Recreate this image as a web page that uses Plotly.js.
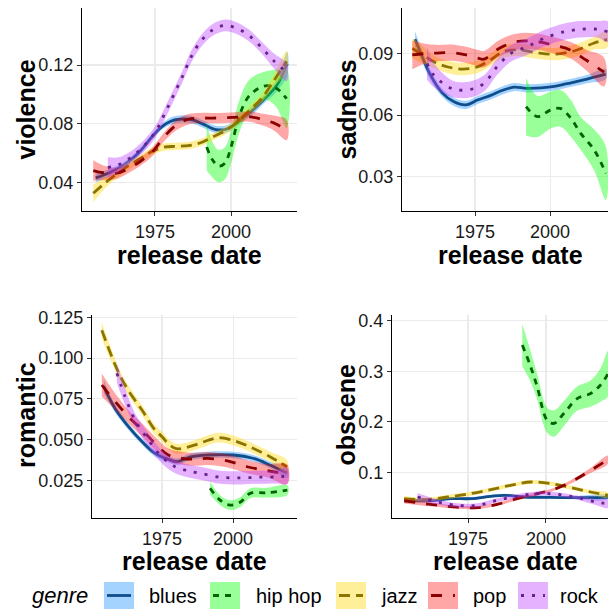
<!DOCTYPE html>
<html>
<head>
<meta charset="utf-8">
<script src="https://cdn.plot.ly/plotly-3.0.1.min.js"></script>
<style>html,body{margin:0;padding:0;background:#fff;} #chart{width:608px;height:612px;}</style>
</head>
<body>
<div id="chart"></div>
<script>
// ---------- data ----------
const genres = ["blues", "hip hop", "jazz", "pop", "rock"];
const metrics = ["violence", "sadness", "romantic", "obscene"];
const xTitle = "release date";

// violence
const violence_blues_x = [1955.5,1960,1965,1970,1974,1977,1980,1983,1987,1991,1995,1998,2001,2004,2007,2011,2015,2018.5];
const violence_blues_y = [0.043,0.0465,0.052,0.061,0.071,0.0775,0.0815,0.083,0.0828,0.0795,0.076,0.076,0.079,0.084,0.089,0.097,0.106,0.121];
const violence_blues_se = [0.003,0.0025,0.002,0.002,0.002,0.002,0.0025,0.0025,0.0025,0.0025,0.0025,0.0025,0.0025,0.0025,0.003,0.003,0.004,0.008];
const violence_hiphop_x = [1992,1994,1996,1998,2000,2002,2004,2006,2009,2012,2015,2018.3];
const violence_hiphop_y = [0.064,0.055,0.051,0.053,0.064,0.080,0.092,0.099,0.104,0.106,0.104,0.097];
const violence_hiphop_se = [0.016,0.012,0.011,0.011,0.011,0.011,0.011,0.011,0.010,0.010,0.013,0.02];
const violence_jazz_x = [1954.7,1958,1962,1966,1970,1974,1978,1982,1986,1990,1994,1998,2002,2006,2010,2014,2018.3];
const violence_jazz_y = [0.0325,0.0385,0.045,0.051,0.056,0.061,0.064,0.0645,0.065,0.067,0.071,0.075,0.081,0.089,0.097,0.109,0.1225];
const violence_jazz_se = [0.006,0.004,0.003,0.003,0.0025,0.0025,0.0025,0.0025,0.0025,0.0025,0.0025,0.0025,0.0025,0.003,0.003,0.004,0.007];
const violence_pop_x = [1954.7,1958,1962,1966,1970,1974,1978,1982,1986,1990,1994,1998,2002,2006,2010,2014,2018.3];
const violence_pop_y = [0.048,0.0465,0.046,0.049,0.054,0.0605,0.071,0.079,0.083,0.0838,0.0838,0.084,0.0845,0.0848,0.083,0.0805,0.0757];
const violence_pop_se = [0.007,0.005,0.004,0.003,0.003,0.003,0.003,0.0035,0.0035,0.0035,0.0035,0.0035,0.0035,0.0035,0.004,0.005,0.007];
const violence_rock_x = [1959.5,1963,1967,1971,1975,1978,1981,1984,1987,1990,1994,1998,2002,2006,2010,2014,2018.3];
const violence_rock_y = [0.050,0.052,0.057,0.064,0.074,0.086,0.099,0.112,0.126,0.136,0.144,0.147,0.145,0.140,0.132,0.123,0.115];
const violence_rock_se = [0.007,0.005,0.004,0.004,0.004,0.004,0.004,0.004,0.004,0.004,0.004,0.004,0.004,0.004,0.004,0.005,0.006];

// sadness
const sadness_blues_x = [1955,1957,1960,1964,1968,1972,1976,1980,1984,1988,1992,1997,2002,2007,2012,2018.5];
const sadness_blues_y = [0.097,0.090,0.080,0.071,0.0665,0.065,0.0675,0.0695,0.072,0.0737,0.0731,0.0733,0.0742,0.0758,0.0775,0.080];
const sadness_blues_se = [0.004,0.003,0.0025,0.002,0.002,0.002,0.002,0.002,0.002,0.002,0.002,0.002,0.002,0.002,0.002,0.0025];
const sadness_hiphop_x = [1992,1995.8,2000.2,2003.6,2006.9,2010.2,2014.7,2018.6];
const sadness_hiphop_y = [0.0641,0.0593,0.0625,0.0632,0.0585,0.0511,0.043,0.0316];
const sadness_hiphop_se = [0.014,0.010,0.009,0.009,0.009,0.008,0.010,0.013];
const sadness_jazz_x = [1954.1,1958,1962,1966,1971,1976,1980,1984.5,1990,1995.5,2002,2009,2014.5,2019];
const sadness_jazz_y = [0.0926,0.089,0.0855,0.0835,0.0825,0.0837,0.0869,0.091,0.0918,0.0905,0.0898,0.0918,0.0951,0.097];
const sadness_jazz_se = [0.005,0.004,0.003,0.003,0.003,0.003,0.003,0.003,0.003,0.003,0.003,0.003,0.003,0.004];
const sadness_pop_x = [1954.1,1958,1962,1967,1972,1976,1978,1983,1989,1995.5,2001,2006.7,2012,2018];
const sadness_pop_y = [0.0894,0.090,0.0903,0.0905,0.0894,0.0878,0.0873,0.0925,0.0959,0.0959,0.0942,0.0918,0.0869,0.081];
const sadness_pop_se = [0.007,0.005,0.004,0.004,0.004,0.004,0.004,0.004,0.004,0.004,0.004,0.004,0.005,0.007];
const sadness_rock_x = [1959,1961,1963.6,1968,1973.6,1978,1982.4,1987,1992.4,1998,2004.7,2010.2,2015.8,2019.3];
const sadness_rock_y = [0.0853,0.080,0.0763,0.0726,0.0726,0.0755,0.0837,0.0902,0.0934,0.0975,0.1007,0.1019,0.1019,0.1007];
const sadness_rock_se = [0.008,0.006,0.005,0.004,0.004,0.004,0.004,0.004,0.004,0.004,0.004,0.004,0.004,0.005];

// romantic
const romantic_blues_x = [1954.5,1956,1958.5,1963.2,1968,1972.5,1977.2,1980.3,1985,1991,2000,2007,2013,2019];
const romantic_blues_y = [0.0825,0.077,0.069,0.058,0.0487,0.0416,0.038,0.0365,0.0395,0.0406,0.0406,0.0386,0.0345,0.0297];
const romantic_blues_se = [0.004,0.003,0.0025,0.002,0.002,0.002,0.002,0.002,0.002,0.002,0.002,0.002,0.002,0.003];
const romantic_hiphop_x = [1991.9,1995.4,1998.9,2002.5,2006,2011.9,2019.1];
const romantic_hiphop_y = [0.0202,0.013,0.0099,0.0117,0.0171,0.0175,0.0191];
const romantic_hiphop_se = [0.004,0.003,0.003,0.003,0.003,0.003,0.003];
const romantic_jazz_x = [1953.8,1957.3,1960,1963.2,1968,1972.5,1975,1977.5,1980,1983,1987,1991,1995,2001,2007,2013,2019];
const romantic_jazz_y = [0.117,0.101,0.090,0.080,0.068,0.056,0.0518,0.047,0.0445,0.045,0.047,0.0495,0.0512,0.049,0.0447,0.0396,0.0334];
const romantic_jazz_se = [0.005,0.004,0.003,0.003,0.003,0.003,0.003,0.003,0.003,0.003,0.003,0.003,0.003,0.003,0.003,0.003,0.004];
const romantic_pop_x = [1953.8,1958.5,1963.2,1968,1972.5,1977.2,1982,1986,1991,1998,2005,2012,2019];
const romantic_pop_y = [0.0835,0.0733,0.0641,0.0559,0.0478,0.0406,0.0386,0.038,0.0385,0.037,0.0334,0.031,0.0288];
const romantic_pop_se = [0.007,0.005,0.004,0.004,0.004,0.004,0.004,0.004,0.004,0.004,0.004,0.004,0.006];
const romantic_rock_x = [1959.1,1962,1965.5,1970.2,1974.9,1979.6,1984,1988.4,1995.4,2002.5,2009.5,2015.4,2019.1];
const romantic_rock_y = [0.0907,0.0763,0.062,0.0498,0.0395,0.0334,0.031,0.0294,0.027,0.0266,0.027,0.0272,0.0278];
const romantic_rock_se = [0.006,0.005,0.004,0.004,0.004,0.004,0.004,0.004,0.004,0.004,0.004,0.004,0.005];

// obscene
const obscene_blues_x = [1954.5,1963,1969.5,1975.9,1982.3,1986.6,1993,1999.4,2008,2019.9];
const obscene_blues_y = [0.045,0.0443,0.0483,0.0483,0.0529,0.0549,0.0515,0.0509,0.0503,0.0509];
const obscene_blues_se = [0.004,0.003,0.003,0.003,0.003,0.003,0.003,0.003,0.003,0.004];
const obscene_hiphop_x = [1992.4,1995.1,1997.2,2000.4,2002.6,2005.8,2010,2014.3,2017.5,2019.9];
const obscene_hiphop_y = [0.352,0.309,0.269,0.203,0.197,0.217,0.246,0.256,0.273,0.295];
const obscene_hiphop_se = [0.042,0.03,0.025,0.025,0.026,0.025,0.024,0.026,0.033,0.045];
const obscene_jazz_x = [1954.5,1960.9,1968.4,1975.9,1982.3,1988.7,1995.1,2001.5,2007.9,2014.3,2019.9];
const obscene_jazz_y = [0.0483,0.0463,0.0515,0.0582,0.066,0.0747,0.0812,0.078,0.0701,0.0614,0.0549];
const obscene_jazz_se = [0.005,0.004,0.004,0.004,0.004,0.004,0.004,0.004,0.004,0.004,0.005];
const obscene_pop_x = [1954.5,1963,1970.5,1977.9,1984.3,1990.7,1997.2,2001.5,2005.8,2010,2014.3,2019.9];
const obscene_pop_y = [0.0437,0.037,0.0318,0.0305,0.037,0.0483,0.0582,0.0642,0.0747,0.088,0.104,0.1254];
const obscene_pop_se = [0.005,0.004,0.003,0.003,0.003,0.003,0.003,0.003,0.003,0.004,0.005,0.008];
const obscene_rock_x = [1958.8,1965.2,1971.6,1977.9,1984.3,1990.7,1997.2,2003.5,2010,2016,2019.9];
const obscene_rock_y = [0.0515,0.0417,0.035,0.035,0.045,0.0529,0.0582,0.0569,0.0503,0.0417,0.0378];
const obscene_rock_se = [0.008,0.005,0.004,0.004,0.004,0.004,0.004,0.004,0.004,0.006,0.008];

// tick labels
const xTicks = [1975, 2000];
const violenceTicks = [0.04, 0.08, 0.12];
const sadnessTicks = [0.03, 0.06, 0.09];
const romanticTicks = [0.025, 0.050, 0.075, 0.100, 0.125];
const obsceneTicks = [0.1, 0.2, 0.3, 0.4];

// ---------- styling ----------
const lineColors = ["#104E8B", "#006400", "#8B7500", "#8B0000", "#68228B"];
const fillColors = ["rgba(30,144,255,0.4)", "rgba(0,255,0,0.4)", "rgba(255,215,0,0.4)", "rgba(255,0,0,0.35)", "rgba(191,62,255,0.4)"];
const dashes = ["solid", "6px,6px", "11px,6px", "11px,11px", "3px,8px"];
const LW = 2.8;
const FONT = "Liberation Sans, Arial, sans-serif";

const series = {
  violence: [[violence_blues_x, violence_blues_y, violence_blues_se],[violence_hiphop_x, violence_hiphop_y, violence_hiphop_se],[violence_jazz_x, violence_jazz_y, violence_jazz_se],[violence_pop_x, violence_pop_y, violence_pop_se],[violence_rock_x, violence_rock_y, violence_rock_se]],
  sadness: [[sadness_blues_x, sadness_blues_y, sadness_blues_se],[sadness_hiphop_x, sadness_hiphop_y, sadness_hiphop_se],[sadness_jazz_x, sadness_jazz_y, sadness_jazz_se],[sadness_pop_x, sadness_pop_y, sadness_pop_se],[sadness_rock_x, sadness_rock_y, sadness_rock_se]],
  romantic: [[romantic_blues_x, romantic_blues_y, romantic_blues_se],[romantic_hiphop_x, romantic_hiphop_y, romantic_hiphop_se],[romantic_jazz_x, romantic_jazz_y, romantic_jazz_se],[romantic_pop_x, romantic_pop_y, romantic_pop_se],[romantic_rock_x, romantic_rock_y, romantic_rock_se]],
  obscene: [[obscene_blues_x, obscene_blues_y, obscene_blues_se],[obscene_hiphop_x, obscene_hiphop_y, obscene_hiphop_se],[obscene_jazz_x, obscene_jazz_y, obscene_jazz_se],[obscene_pop_x, obscene_pop_y, obscene_pop_se],[obscene_rock_x, obscene_rock_y, obscene_rock_se]]
};

// panel geometry in pixels [left, right, top, bottom], axis ranges, title positions
const W = 608, H = 612;
const panels = [
  {px: [82, 297, 8, 211], xr: [1951.0, 2021.7], yr: [0.0204, 0.1589], yt: violenceTicks, fmt: ".2f", xt: [189.5, 254.5], ytl: [25, 109.5]},
  {px: [402, 608, 8, 211], xr: [1950.67, 2019.3], yr: [0.0132, 0.1123], yt: sadnessTicks, fmt: ".2f", xt: [510, 254.5], ytl: [346, 109.5]},
  {px: [92, 297, 315, 518], xr: [1950.35, 2022.5], yr: [0.002, 0.1264], yt: romanticTicks, fmt: ".3f", xt: [194.5, 560.5], ytl: [26, 415]},
  {px: [392, 608, 315, 518], xr: [1950.6, 2019.9], yr: [0.010, 0.4113], yt: obsceneTicks, fmt: ".1f", xt: [505, 560.5], ytl: [345.5, 415]}
];

const traces = [];
const layout = {
  width: W, height: H,
  margin: {l: 0, r: 0, t: 0, b: 0},
  paper_bgcolor: "#fff", plot_bgcolor: "#fff",
  showlegend: false,
  font: {family: FONT, color: "#1a1a1a"},
  shapes: [], annotations: []
};
const titleFont = {family: FONT, size: 25, color: "#000", weight: "bold"};

metrics.forEach((m, pi) => {
  const suf = pi === 0 ? "" : String(pi + 1);
  const xa = "x" + suf, ya = "y" + suf;
  series[m].forEach((s, gi) => {
    const [xs, ys, se] = s;
    const up = ys.map((v, i) => v + se[i]);
    const lo = ys.map((v, i) => v - se[i]);
    traces.push({
      type: "scatter", mode: "lines", xaxis: xa, yaxis: ya,
      x: xs.concat(xs.slice().reverse()),
      y: up.concat(lo.slice().reverse()),
      fill: "toself", fillcolor: fillColors[gi],
      line: {width: 0, shape: "spline", smoothing: 1},
      hoverinfo: "skip", showlegend: false
    });
    traces.push({
      type: "scatter", mode: "lines", xaxis: xa, yaxis: ya,
      x: xs, y: ys, name: genres[gi],
      line: {color: lineColors[gi], width: LW, dash: dashes[gi], shape: "spline", smoothing: 1},
      showlegend: false
    });
  });
  const p = panels[pi];
  const common = {
    showline: true, linecolor: "#000", linewidth: 1.2,
    ticks: "outside", ticklen: 4, tickwidth: 1, tickcolor: "#333",
    showgrid: true, gridcolor: "#EBEBEB", gridwidth: 1.1,
    zeroline: false, automargin: false,
    tickfont: {family: FONT, size: 18, color: "#1a1a1a"}
  };
  layout["xaxis" + suf] = Object.assign({}, common, {
    domain: [p.px[0] / W, p.px[1] / W], anchor: ya,
    range: p.xr, tickvals: xTicks, ticktext: xTicks.map(String)
  });
  layout["yaxis" + suf] = Object.assign({}, common, {
    domain: [1 - p.px[3] / H, 1 - p.px[2] / H], anchor: xa,
    range: p.yr, tickvals: p.yt, tickformat: p.fmt
  });
  // axis titles (placed like ggplot: centred on the panel)
  layout.annotations.push({
    xref: "paper", yref: "paper", x: p.xt[0] / W, y: 1 - p.xt[1] / H,
    xanchor: "center", yanchor: "middle", showarrow: false,
    text: xTitle, font: titleFont
  });
  layout.annotations.push({
    xref: "paper", yref: "paper", x: p.ytl[0] / W, y: 1 - p.ytl[1] / H,
    xanchor: "center", yanchor: "middle", showarrow: false, textangle: -90,
    text: m, font: titleFont
  });
});

// ---------- legend (drawn manually to mimic ggplot keys) ----------
const legBoxX = [104, 210, 336, 428, 518];
const legLabelX = [147, 254, 379, 471, 558];
const legTop = 582, legBot = 609, legMid = 595.5;
layout.annotations.push({
  xref: "paper", yref: "paper", x: 30 / W, y: 1 - legMid / H, xanchor: "left", yanchor: "middle",
  text: "<i>genre</i>", showarrow: false, font: {family: FONT, size: 22, color: "#000"}
});
genres.forEach((g, gi) => {
  const x0 = legBoxX[gi], x1 = x0 + 30;
  layout.shapes.push({
    type: "rect", xref: "paper", yref: "paper",
    x0: x0 / W, x1: x1 / W, y0: 1 - legBot / H, y1: 1 - legTop / H,
    fillcolor: fillColors[gi], line: {width: 0}
  });
  layout.shapes.push({
    type: "line", xref: "paper", yref: "paper",
    x0: (x0 + 3) / W, x1: (x1 - 3) / W, y0: 1 - legMid / H, y1: 1 - legMid / H,
    line: {color: lineColors[gi], width: LW, dash: dashes[gi]}
  });
  layout.annotations.push({
    xref: "paper", yref: "paper", x: legLabelX[gi] / W, y: 1 - legMid / H, xanchor: "left", yanchor: "middle",
    text: g, showarrow: false, font: {family: FONT, size: 20, color: "#000"}
  });
});

Plotly.newPlot("chart", traces, layout, {staticPlot: true, displayModeBar: false});
</script>
</body>
</html>
